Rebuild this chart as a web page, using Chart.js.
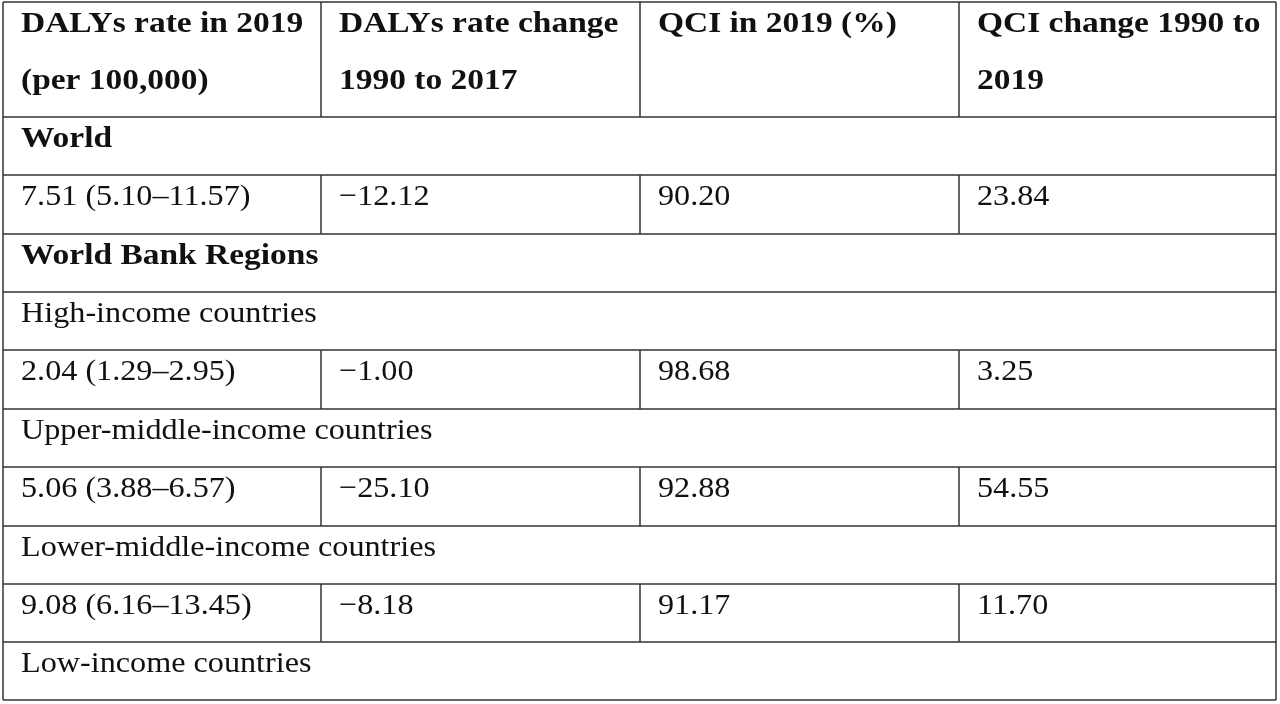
<!DOCTYPE html>
<html>
<head>
<meta charset="utf-8">
<script src="https://cdn.jsdelivr.net/npm/chart.js@4"></script>
<style>
  html, body { margin: 0; padding: 0; background: #fff; }
  canvas { display: block; }
</style>
</head>
<body>
<canvas id="tabla" width="1280" height="704"></canvas>
<script>
// Datos de la tabla
const encabezados = [
  ["DALYs rate in 2019", "(per 100,000)"],
  ["DALYs rate change", "1990 to 2017"],
  ["QCI in 2019 (%)"],
  ["QCI change 1990 to", "2019"]
];
// filas: {tipo: "seccion"|"grupo"|"datos", texto / valores}
const filas = [
  { tipo: "seccion", texto: "World" },
  { tipo: "datos", valores: ["7.51 (5.10–11.57)", "−12.12", "90.20", "23.84"] },
  { tipo: "seccion", texto: "World Bank Regions" },
  { tipo: "grupo", texto: "High-income countries" },
  { tipo: "datos", valores: ["2.04 (1.29–2.95)", "−1.00", "98.68", "3.25"] },
  { tipo: "grupo", texto: "Upper-middle-income countries" },
  { tipo: "datos", valores: ["5.06 (3.88–6.57)", "−25.10", "92.88", "54.55"] },
  { tipo: "grupo", texto: "Lower-middle-income countries" },
  { tipo: "datos", valores: ["9.08 (6.16–13.45)", "−8.18", "91.17", "11.70"] },
  { tipo: "grupo", texto: "Low-income countries" }
];
// bordes de columnas y filas (en unidades de la escala)
const bordesX = [3, 321, 640, 959, 1276];
const bordesY = [2, 117, 175, 234, 292, 350, 409, 467, 526, 584, 642, 700];

const fuente = '"Liberation Serif", "DejaVu Serif", serif';

// texto con estiramiento horizontal para imitar la fuente original
function texto(ctx, t, x0, y0, negrita) {
  ctx.font = (negrita ? "bold " : "") + "30px " + fuente;
  const sx = negrita ? 1.115 : 1.073;
  ctx.save();
  ctx.translate(x0, y0);
  ctx.scale(sx, 1);
  ctx.fillText(t, 0, 0);
  ctx.restore();
}

const dibujarTabla = {
  id: "dibujarTabla",
  afterDraw(chart) {
    const { ctx, scales: { x, y } } = chart;
    const px = v => x.getPixelForValue(v);
    const py = v => y.getPixelForValue(v);
    ctx.save();
    ctx.strokeStyle = "#333";
    ctx.lineWidth = 1.5;
    ctx.fillStyle = "#111";
    ctx.textBaseline = "middle";

    // lineas horizontales
    bordesY.forEach(b => {
      ctx.beginPath();
      ctx.moveTo(px(bordesX[0]), py(b));
      ctx.lineTo(px(bordesX[bordesX.length - 1]), py(b));
      ctx.stroke();
    });
    // verticales exteriores
    [bordesX[0], bordesX[bordesX.length - 1]].forEach(b => {
      ctx.beginPath();
      ctx.moveTo(px(b), py(bordesY[0]));
      ctx.lineTo(px(b), py(bordesY[bordesY.length - 1]));
      ctx.stroke();
    });
    // verticales interiores: encabezado y filas de datos
    const filasConCols = [0];
    filas.forEach((f, i) => { if (f.tipo === "datos") filasConCols.push(i + 1); });
    filasConCols.forEach(r => {
      for (let c = 1; c < bordesX.length - 1; c++) {
        ctx.beginPath();
        ctx.moveTo(px(bordesX[c]), py(bordesY[r]));
        ctx.lineTo(px(bordesX[c]), py(bordesY[r + 1]));
        ctx.stroke();
      }
    });

    // encabezado
    encabezados.forEach((lineas, c) => {
      lineas.forEach((t, k) => {
        texto(ctx, t, px(bordesX[c]) + 18, py(bordesY[0] + 22 + k * 57), true);
      });
    });

    // filas
    filas.forEach((f, i) => {
      const yc = py(bordesY[i + 1] + 22);
      if (f.tipo === "datos") {
        f.valores.forEach((v, c) => texto(ctx, v, px(bordesX[c]) + 18, yc, false));
      } else {
        texto(ctx, f.texto, px(bordesX[0]) + 18, yc, f.tipo === "seccion");
      }
    });
    ctx.restore();
  }
};

new Chart(document.getElementById("tabla").getContext("2d"), {
  type: "scatter",
  data: { datasets: [{ data: [] }] },
  options: {
    responsive: false,
    animation: false,
    layout: { padding: 0 },
    plugins: { legend: { display: false }, tooltip: { enabled: false } },
    scales: {
      x: { type: "linear", min: 0, max: 1280, display: false },
      y: { type: "linear", min: 0, max: 704, reverse: true, display: false }
    }
  },
  plugins: [dibujarTabla]
});
</script>
</body>
</html>
